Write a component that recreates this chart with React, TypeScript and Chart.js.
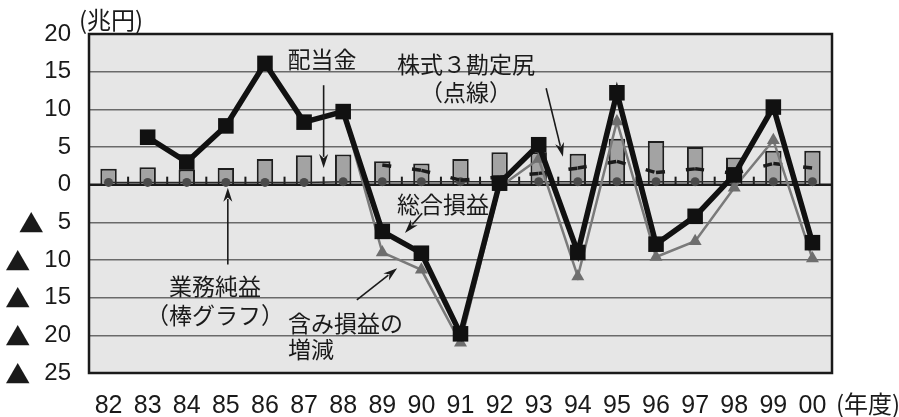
import React, { useEffect, useRef } from "react";
import { Chart, registerables } from "chart.js";

Chart.register(...registerables);

// 年度 (fiscal years)
const years = ["82", "83", "84", "85", "86", "87", "88", "89", "90", "91", "92", "93", "94", "95", "96", "97", "98", "99", "00"];

// 業務純益 (bars), 兆円
const operatingProfit = [2.1, 2.3, 2.0, 2.2, 3.4, 3.9, 4.0, 3.1, 2.8, 3.4, 4.3, 4.3, 4.1, 6.1, 5.8, 5.0, 3.6, 4.5, 4.5];

// 配当金
const dividends = [0.3, 0.3, 0.3, 0.3, 0.3, 0.3, 0.4, 0.4, 0.4, 0.4, 0.4, 0.4, 0.4, 0.4, 0.4, 0.4, 0.4, 0.4, 0.4];

// 株式3勘定尻 (dotted)
const stockAccounts = [null, null, null, null, null, null, null, 2.6, 1.9, 0.6, 1.0, 1.5, 2.2, 3.1, 1.6, 2.1, 1.5, 2.8, 2.2];

// 含み損益の増減
const unrealizedChange = [null, 6.3, 3.0, 7.8, 16.1, 8.3, 9.7, -9.0, -11.3, -21.0, -0.3, 3.4, -12.2, 8.4, -9.6, -7.5, -0.4, 5.9, -9.8];

// 総合損益
const totalProfit = [null, 6.3, 3.0, 7.8, 16.1, 8.3, 9.7, -6.2, -9.1, -19.8, 0.2, 5.3, -9.0, 12.2, -7.9, -4.2, 1.3, 10.3, -7.7];

// value axis range and step
const yMin = -25;
const yMax = 20;
const yStep = 5;

// negative amounts are written with a leading ▲
const NEG_MARK = "▲";

const NUM_FONT = "'Liberation Sans Narrow', 'Liberation Sans', Arial, sans-serif";
const JP_FONT = "'Noto Sans CJK JP', 'Noto Sans', sans-serif";
const INK = "#1a1a1a";
const Y_LABEL_PAD = 18;

function arrow(ctx: CanvasRenderingContext2D, x1: number, y1: number, x2: number, y2: number) {
  const ang = Math.atan2(y2 - y1, x2 - x1);
  const len = 14;
  const hw = 4.5;
  ctx.save();
  ctx.strokeStyle = INK;
  ctx.fillStyle = INK;
  ctx.lineWidth = 1.6;
  ctx.beginPath();
  ctx.moveTo(x1, y1);
  ctx.lineTo(x2 - Math.cos(ang) * len * 0.8, y2 - Math.sin(ang) * len * 0.8);
  ctx.stroke();
  ctx.beginPath();
  ctx.moveTo(x2, y2);
  ctx.lineTo(x2 - Math.cos(ang) * len - Math.sin(ang) * hw, y2 - Math.sin(ang) * len + Math.cos(ang) * hw);
  ctx.lineTo(x2 - Math.cos(ang) * len * 0.7, y2 - Math.sin(ang) * len * 0.7);
  ctx.lineTo(x2 - Math.cos(ang) * len + Math.sin(ang) * hw, y2 - Math.sin(ang) * len - Math.cos(ang) * hw);
  ctx.closePath();
  ctx.fill();
  ctx.restore();
}

const framePlugin = {
  id: "frame",
  beforeDraw(chart: any) {
    const { ctx, chartArea: a } = chart;
    ctx.save();
    ctx.fillStyle = "#e6e6e6";
    ctx.fillRect(a.left, a.top, a.right - a.left, a.bottom - a.top);
    ctx.restore();
  },
  beforeDatasetsDraw(chart: any) {
    const { ctx, chartArea: a, scales } = chart;
    const xs = scales.x;
    const y0 = scales.y.getPixelForValue(0);
    ctx.save();
    ctx.strokeStyle = INK;
    ctx.lineWidth = 2.5;
    ctx.beginPath();
    ctx.moveTo(a.left, y0);
    ctx.lineTo(a.right, y0);
    ctx.stroke();
    // category boundary ticks on the zero line
    ctx.lineWidth = 2;
    for (let i = 0; i < years.length - 1; i++) {
      const xb = (xs.getPixelForValue(i) + xs.getPixelForValue(i + 1)) / 2;
      ctx.beginPath();
      ctx.moveTo(xb, y0 + 1);
      ctx.lineTo(xb, y0 - 8);
      ctx.stroke();
    }
    ctx.restore();
  },
  afterDatasetsDraw(chart: any) {
    const { ctx, chartArea: a, scales } = chart;
    const xs = scales.x;
    const ys = scales.y;
    const P = (i: number, v: number) => [xs.getPixelForValue(i), ys.getPixelForValue(v)];

    ctx.save();
    ctx.strokeStyle = INK;
    ctx.lineWidth = 2.5;
    ctx.strokeRect(a.left, a.top, a.right - a.left, a.bottom - a.top);

    ctx.fillStyle = INK;
    ctx.font = `23px ${JP_FONT}`;
    ctx.textBaseline = "middle";

    const text = (s: string, i: number, v: number, align: CanvasTextAlign) => {
      const [x, y] = P(i, v);
      ctx.textAlign = align;
      ctx.fillText(s, x, y);
    };

    text("配当金", 5.46, 16.7, "center");
    text("株式３勘定尻", 9.14, 16.0, "center");
    text("（点線）", 9.14, 12.3, "center");
    text("総合損益", 8.55, -2.6, "center");
    text("業務純益", 2.72, -13.5, "center");
    text("（棒グラフ）", 2.72, -17.4, "center");
    text("含み損益の", 4.59, -18.4, "left");
    text("増減", 4.59, -21.9, "left");

    const ar = (i1: number, v1: number, i2: number, v2: number) => {
      const [x1, y1] = P(i1, v1);
      const [x2, y2] = P(i2, v2);
      arrow(ctx, x1, y1, x2, y2);
    };
    ar(5.5, 13.2, 5.5, 2.2);
    ar(11.19, 12.8, 11.62, 3.7);
    ar(8.02, -3.8, 7.58, -6.4);
    ar(3.05, -10.6, 3.05, -0.4);
    ar(6.35, -15.3, 7.38, -11.1);
    ctx.restore();
  },
  afterDraw(chart: any) {
    const { ctx, chartArea: a, scales } = chart;
    const ys = scales.y;
    ctx.save();
    ctx.fillStyle = INK;

    // ▲ marks in front of the negative tick numbers
    ctx.font = `24px ${NUM_FONT}`;
    const numRight = a.left - Y_LABEL_PAD;
    ys.ticks.forEach((t: any) => {
      if (t.value >= 0) return;
      const w = ctx.measureText(String(-t.value)).width;
      const y = ys.getPixelForValue(t.value);
      ctx.save();
      ctx.font = `25px ${JP_FONT}`;
      ctx.textAlign = "right";
      ctx.textBaseline = "middle";
      ctx.fillText(NEG_MARK, numRight - w - 14, y + 1);
      ctx.restore();
    });

    ctx.font = `24px ${JP_FONT}`;
    ctx.textBaseline = "middle";
    ctx.textAlign = "left";
    ctx.fillText("(兆円)", a.left - 10, a.top - 14);
    ctx.fillText("(年度)", a.right + 4, a.bottom + 31);
    ctx.restore();
  },
};

export default function App() {
  const ref = useRef<HTMLCanvasElement | null>(null);

  useEffect(() => {
    if (!ref.current) return;
    const chart = new Chart(ref.current, {
      type: "bar",
      data: {
        labels: years,
        datasets: [
          {
            type: "line",
            label: "総合損益",
            data: totalProfit,
            borderColor: "#111",
            borderWidth: 5.5,
            pointStyle: "rect",
            pointRadius: 11,
            pointBackgroundColor: "#111",
            pointBorderColor: "#111",
            pointBorderWidth: 0,
            order: 0,
          },
          {
            type: "line",
            label: "含み損益の増減",
            data: unrealizedChange,
            borderColor: "#7a7a7a",
            borderWidth: 2.5,
            pointStyle: "triangle",
            pointRadius: 7.5,
            pointBackgroundColor: "#6e6e6e",
            pointBorderColor: "#6e6e6e",
            pointBorderWidth: 0,
            order: 1,
          },
          {
            type: "line",
            label: "株式3勘定尻",
            data: stockAccounts,
            borderColor: "#1a1a1a",
            borderWidth: 3.5,
            borderDash: [9, 21],
            pointRadius: 0,
            segment: {
              // alternate a tiny offset so each segment restarts its dash pattern
              borderDashOffset: (c: any) => (c.p0DataIndex % 2) * 0.001,
            },
            order: 2,
          },
          {
            type: "line",
            label: "配当金",
            data: dividends,
            borderColor: "#2a2a2a",
            borderWidth: 1.5,
            pointStyle: "circle",
            pointRadius: 4.5,
            pointBackgroundColor: "#4a4a4a",
            pointBorderWidth: 0,
            order: 3,
          },
          {
            type: "bar",
            label: "業務純益",
            data: operatingProfit,
            backgroundColor: "#a3a3a3",
            borderColor: "#1e1e1e",
            borderWidth: 2,
            barPercentage: 0.42,
            categoryPercentage: 1.0,
            order: 4,
          },
        ],
      },
      options: {
        animation: false,
        responsive: false,
        maintainAspectRatio: false,
        layout: { padding: { left: 0, top: 34, right: 67, bottom: 0 } },
        plugins: { legend: { display: false }, tooltip: { enabled: false } },
        scales: {
          x: {
            offset: true,
            grid: { display: false },
            border: { display: false },
            ticks: {
              font: { family: NUM_FONT, size: 25 },
              color: INK,
              padding: 10,
              maxRotation: 0,
              autoSkip: false,
            },
            afterFit(s: any) {
              s.height = 44;
            },
          },
          y: {
            min: yMin,
            max: yMax,
            grid: { color: "#6a6a6a", lineWidth: 1.5, drawTicks: false },
            border: { display: false },
            ticks: {
              stepSize: yStep,
              font: { family: NUM_FONT, size: 24 },
              color: INK,
              padding: Y_LABEL_PAD,
              callback: (v: any) => `${Math.abs(v)}`,
            },
            afterFit(s: any) {
              s.width = 89;
            },
          },
        },
      },
      plugins: [framePlugin],
    } as any);
    return () => chart.destroy();
  }, []);

  return (
    <div style={{ position: "absolute", left: 0, top: 0, width: 899, height: 417, background: "#fff" }}>
      <canvas ref={ref} width={899} height={417} style={{ display: "block" }} />
    </div>
  );
}
